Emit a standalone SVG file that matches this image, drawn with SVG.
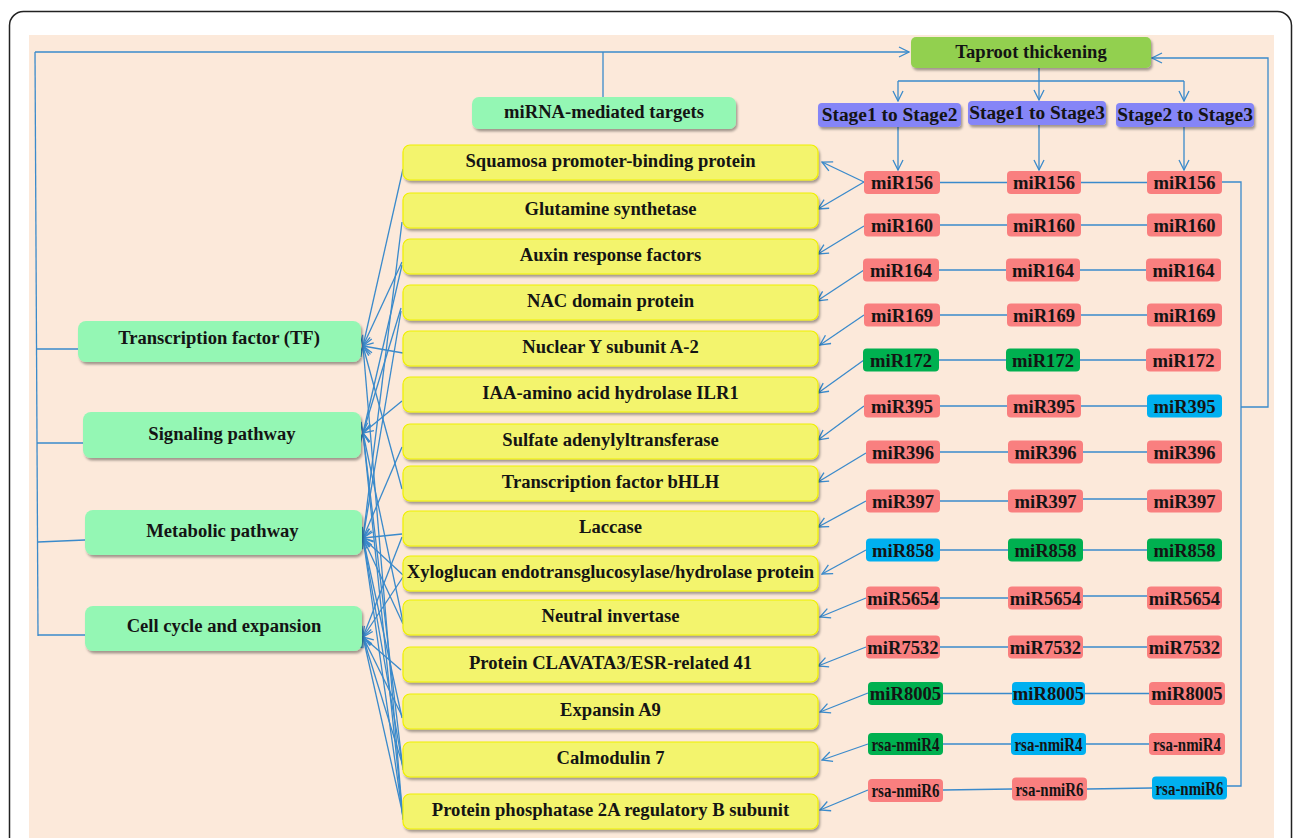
<svg xmlns="http://www.w3.org/2000/svg" width="1296" height="838" viewBox="0 0 1296 838">
<defs>
<style>
.t{font-family:"Liberation Serif","Times New Roman",serif;font-weight:bold;font-size:18.6px;text-anchor:middle;fill:#141414}
.rs{font-size:19px}
.st{font-size:19.4px}
.c{fill:none;stroke:#3a8acb;stroke-width:1.3}
.a{marker-end:url(#arr)}
.cat{fill:#94F7B4}
.tg{fill:#F3F46D;stroke:#F0F000;stroke-width:1.2}
.stg{fill:#8585F7}
.r{fill:#F97F7F}
.g{fill:#00B050}
.b{fill:#00B0F0}
</style>
<filter id="sh" x="-10%" y="-20%" width="120%" height="150%">
<feDropShadow dx="1.5" dy="2.5" stdDeviation="1.2" flood-color="#000" flood-opacity="0.35"/>
</filter>
<marker id="arr" viewBox="0 0 12 12" refX="11" refY="6" markerWidth="12" markerHeight="12" markerUnits="userSpaceOnUse" orient="auto">
<path d="M1,1 L11,6 L1,11" fill="none" stroke="#3a8acb" stroke-width="1.3"/>
</marker>
</defs>
<rect x="0" y="0" width="1296" height="838" fill="#fff"/>
<rect x="9.5" y="11.5" width="1282" height="870" rx="14" fill="#fff" stroke="#222" stroke-width="1.5"/>
<rect x="29" y="35" width="1245" height="803" fill="#FCE9DA"/>

<g id="connectors">
<path class="c a" d="M35,52 H909"/>
<path class="c" d="M603,52 V97"/>
<path class="c" d="M35,52 L38,636"/>
<path class="c" d="M36,349 H78"/>
<path class="c" d="M37,443 H83"/>
<path class="c" d="M38,542 L85,540"/>
<path class="c" d="M38,635 H85"/>
<path class="c" d="M1039,68 V81 M898,81 H1184"/>
<path class="c a" d="M898,81 V101"/>
<path class="c a" d="M1039,81 V100"/>
<path class="c a" d="M1184,81 V101"/>
<path class="c a" d="M898,127 V170"/>
<path class="c a" d="M1039,125 V170"/>
<path class="c a" d="M1184,127 V170"/>
<path class="c" d="M1222,182 H1241 V786 H1227"/>
<path class="c a" d="M1241,407 H1268 V58 H1152"/>
<path class="c" d="M940,182.5 H1007 M1081,182.5 H1147"/>
<path class="c" d="M940,225 H1007 M1081,225 H1147"/>
<path class="c" d="M939,270 H1006 M1080,270 H1146"/>
<path class="c" d="M940,315 H1007 M1081,315 H1147"/>
<path class="c" d="M939,360 H1006 M1080,360 H1146"/>
<path class="c" d="M940,406 H1007 M1081,406 H1147"/>
<path class="c" d="M940,452 H1008 M1083,452 H1147"/>
<path class="c" d="M940,501 H1008 M1083,499 H1147"/>
<path class="c" d="M940,550 H1008 M1083,550 H1147"/>
<path class="c" d="M940,598 H1008 M1083,596 H1147"/>
<path class="c" d="M940,647 H1008 M1083,647 H1147"/>
<path class="c" d="M943,693.5 H1012 M1085,693.5 H1149"/>
<path class="c" d="M943,744 H1011 M1086,744 H1149"/>
<path class="c" d="M943,790 L1012,789 M1087,789 L1152,788"/>
<path class="c a" d="M864,182 L822,162"/>
<path class="c a" d="M864,182 L818,209"/>
<path class="c a" d="M864,226 L818,254"/>
<path class="c a" d="M864,270 L817,301"/>
<path class="c a" d="M864,315 L820,345"/>
<path class="c a" d="M864,360 L818,393"/>
<path class="c a" d="M864,406 L818,440"/>
<path class="c a" d="M866,453 L818,482"/>
<path class="c a" d="M866,501 L818,527"/>
<path class="c a" d="M866,550 L822,574"/>
<path class="c a" d="M866,598 L820,617"/>
<path class="c a" d="M866,647 L818,666"/>
<path class="c a" d="M868,693 L820,712"/>
<path class="c a" d="M868,744 L822,760"/>
<path class="c a" d="M868,790 L820,810"/>
<path class="c a" d="M403,169 L363,346"/>
<path class="c a" d="M402,222 L363,538"/>
<path class="c a" d="M402,262 L363,346"/>
<path class="c a" d="M402,265 L363,433"/>
<path class="c a" d="M401,308 L363,433"/>
<path class="c a" d="M401,311 L363,538"/>
<path class="c a" d="M403,353 L363,346"/>
<path class="c a" d="M402,401 L363,433"/>
<path class="c a" d="M402,447 L363,538"/>
<path class="c a" d="M402,489 L363,346"/>
<path class="c a" d="M402,534 L363,538"/>
<path class="c a" d="M402,537 L363,637"/>
<path class="c a" d="M403,577 L363,637"/>
<path class="c a" d="M403,575 L363,538"/>
<path class="c a" d="M403,622 L363,433"/>
<path class="c a" d="M403,624 L363,538"/>
<path class="c a" d="M401,670 L363,637"/>
<path class="c a" d="M402,716 L363,637"/>
<path class="c a" d="M402,718 L363,538"/>
<path class="c a" d="M403,766 L363,637"/>
<path class="c a" d="M403,768 L363,538"/>
<path class="c a" d="M403,770 L363,433"/>
<path class="c a" d="M403,815 L363,637"/>
<path class="c a" d="M403,817 L363,538"/>
<path class="c a" d="M403,819 L363,433"/>
<path class="c a" d="M403,820 L363,346"/>
</g>

<g id="taproot"><rect x="911" y="37" width="240" height="31" rx="5" fill="#92D050" filter="url(#sh)"/><text class="t" x="1031" y="58">Taproot thickening</text></g>
<g id="stage12"><rect x="818" y="103" width="143" height="24" rx="4" class="stg" filter="url(#sh)"/><text class="t st" x="889.5" y="121">Stage1 to Stage2</text></g>
<g id="stage13"><rect x="968" y="101" width="138" height="24" rx="4" class="stg" filter="url(#sh)"/><text class="t st" x="1037" y="119">Stage1 to Stage3</text></g>
<g id="stage23"><rect x="1116" y="103" width="138" height="24" rx="4" class="stg" filter="url(#sh)"/><text class="t st" x="1185" y="121">Stage2 to Stage3</text></g>

<g id="mirna-targets"><rect x="472" y="97" width="264" height="32" rx="7" class="cat" filter="url(#sh)"/><text class="t" x="604" y="118">miRNA-mediated targets</text></g>
<g id="cat-tf"><rect x="78" y="321" width="283" height="41" rx="8" class="cat" filter="url(#sh)"/><text class="t" x="219" y="344">Transcription factor (TF)</text></g>
<g id="cat-signal"><rect x="83" y="412" width="278" height="46" rx="8" class="cat" filter="url(#sh)"/><text class="t" x="222" y="440">Signaling pathway</text></g>
<g id="cat-metab"><rect x="85" y="510" width="277" height="45" rx="8" class="cat" filter="url(#sh)"/><text class="t" x="222.5" y="537">Metabolic pathway</text></g>
<g id="cat-cell"><rect x="85" y="606" width="277" height="45" rx="8" class="cat" filter="url(#sh)"/><text class="t" x="224" y="632">Cell cycle and expansion</text></g>

<g id="t1"><rect x="403" y="145" width="415" height="35" rx="7" class="tg" filter="url(#sh)"/><text class="t" x="610.5" y="167">Squamosa promoter-binding protein</text></g>
<g id="t2"><rect x="403" y="193" width="415" height="35" rx="7" class="tg" filter="url(#sh)"/><text class="t" x="610.5" y="215">Glutamine synthetase</text></g>
<g id="t3"><rect x="403" y="239" width="415" height="35" rx="7" class="tg" filter="url(#sh)"/><text class="t" x="610.5" y="261">Auxin response factors</text></g>
<g id="t4"><rect x="403" y="285" width="415" height="35" rx="7" class="tg" filter="url(#sh)"/><text class="t" x="610.5" y="307">NAC domain protein</text></g>
<g id="t5"><rect x="403" y="331" width="415" height="35" rx="7" class="tg" filter="url(#sh)"/><text class="t" x="610.5" y="353">Nuclear Y subunit A-2</text></g>
<g id="t6"><rect x="403" y="377" width="415" height="35" rx="7" class="tg" filter="url(#sh)"/><text class="t" x="610.5" y="399">IAA-amino acid hydrolase ILR1</text></g>
<g id="t7"><rect x="403" y="424" width="415" height="35" rx="7" class="tg" filter="url(#sh)"/><text class="t" x="610.5" y="446">Sulfate adenylyltransferase</text></g>
<g id="t8"><rect x="403" y="466" width="415" height="35" rx="7" class="tg" filter="url(#sh)"/><text class="t" x="610.5" y="488">Transcription factor bHLH</text></g>
<g id="t9"><rect x="403" y="511" width="415" height="35" rx="7" class="tg" filter="url(#sh)"/><text class="t" x="610.5" y="533">Laccase</text></g>
<g id="t10"><rect x="403" y="556" width="415" height="35" rx="7" class="tg" filter="url(#sh)"/><text class="t" x="610.5" y="578">Xyloglucan endotransglucosylase/hydrolase protein</text></g>
<g id="t11"><rect x="403" y="600" width="415" height="35" rx="7" class="tg" filter="url(#sh)"/><text class="t" x="610.5" y="622">Neutral invertase</text></g>
<g id="t12"><rect x="403" y="647" width="415" height="35" rx="7" class="tg" filter="url(#sh)"/><text class="t" x="610.5" y="669">Protein CLAVATA3/ESR-related 41</text></g>
<g id="t13"><rect x="403" y="694" width="415" height="35" rx="7" class="tg" filter="url(#sh)"/><text class="t" x="610.5" y="716">Expansin A9</text></g>
<g id="t14"><rect x="403" y="742" width="415" height="35" rx="7" class="tg" filter="url(#sh)"/><text class="t" x="610.5" y="764">Calmodulin 7</text></g>
<g id="t15"><rect x="403" y="794" width="415" height="35" rx="7" class="tg" filter="url(#sh)"/><text class="t" x="610.5" y="816">Protein phosphatase 2A regulatory B subunit</text></g>

<g id="r156a"><rect x="864" y="171" width="76" height="23" rx="4" class="r"/><text class="t" x="902" y="189">miR156</text></g>
<g id="r156b"><rect x="1007" y="171" width="74" height="23" rx="4" class="r"/><text class="t" x="1044" y="189">miR156</text></g>
<g id="r156c"><rect x="1147" y="171" width="75" height="23" rx="4" class="r"/><text class="t" x="1184.5" y="189">miR156</text></g>
<g id="r160a"><rect x="864" y="213.5" width="76" height="23" rx="4" class="r"/><text class="t" x="902" y="231.5">miR160</text></g>
<g id="r160b"><rect x="1007" y="213.5" width="74" height="23" rx="4" class="r"/><text class="t" x="1044" y="231.5">miR160</text></g>
<g id="r160c"><rect x="1147" y="213.5" width="75" height="23" rx="4" class="r"/><text class="t" x="1184.5" y="231.5">miR160</text></g>
<g id="r164a"><rect x="863" y="258.5" width="76" height="23" rx="4" class="r"/><text class="t" x="901" y="276.5">miR164</text></g>
<g id="r164b"><rect x="1006" y="258.5" width="74" height="23" rx="4" class="r"/><text class="t" x="1043" y="276.5">miR164</text></g>
<g id="r164c"><rect x="1146" y="258.5" width="75" height="23" rx="4" class="r"/><text class="t" x="1183.5" y="276.5">miR164</text></g>
<g id="r169a"><rect x="864" y="303.5" width="76" height="23" rx="4" class="r"/><text class="t" x="902" y="321.5">miR169</text></g>
<g id="r169b"><rect x="1007" y="303.5" width="74" height="23" rx="4" class="r"/><text class="t" x="1044" y="321.5">miR169</text></g>
<g id="r169c"><rect x="1147" y="303.5" width="75" height="23" rx="4" class="r"/><text class="t" x="1184.5" y="321.5">miR169</text></g>
<g id="r172a"><rect x="863" y="348.5" width="76" height="23" rx="4" class="g"/><text class="t" x="901" y="366.5">miR172</text></g>
<g id="r172b"><rect x="1006" y="348.5" width="74" height="23" rx="4" class="g"/><text class="t" x="1043" y="366.5">miR172</text></g>
<g id="r172c"><rect x="1146" y="348.5" width="75" height="23" rx="4" class="r"/><text class="t" x="1183.5" y="366.5">miR172</text></g>
<g id="r395a"><rect x="864" y="394.5" width="76" height="23" rx="4" class="r"/><text class="t" x="902" y="412.5">miR395</text></g>
<g id="r395b"><rect x="1007" y="394.5" width="74" height="23" rx="4" class="r"/><text class="t" x="1044" y="412.5">miR395</text></g>
<g id="r395c"><rect x="1147" y="394.5" width="75" height="23" rx="4" class="b"/><text class="t" x="1184.5" y="412.5">miR395</text></g>
<g id="r396a"><rect x="866" y="440.5" width="74" height="23" rx="4" class="r"/><text class="t" x="903" y="458.5">miR396</text></g>
<g id="r396b"><rect x="1008" y="440.5" width="75" height="23" rx="4" class="r"/><text class="t" x="1045.5" y="458.5">miR396</text></g>
<g id="r396c"><rect x="1147" y="440.5" width="75" height="23" rx="4" class="r"/><text class="t" x="1184.5" y="458.5">miR396</text></g>
<g id="r397a"><rect x="866" y="489.5" width="74" height="23" rx="4" class="r"/><text class="t" x="903" y="507.5">miR397</text></g>
<g id="r397b"><rect x="1008" y="489.5" width="75" height="23" rx="4" class="r"/><text class="t" x="1045.5" y="507.5">miR397</text></g>
<g id="r397c"><rect x="1147" y="489.5" width="75" height="23" rx="4" class="r"/><text class="t" x="1184.5" y="507.5">miR397</text></g>
<g id="r858a"><rect x="866" y="538.5" width="74" height="23" rx="4" class="b"/><text class="t" x="903" y="556.5">miR858</text></g>
<g id="r858b"><rect x="1008" y="538.5" width="75" height="23" rx="4" class="g"/><text class="t" x="1045.5" y="556.5">miR858</text></g>
<g id="r858c"><rect x="1147" y="538.5" width="75" height="23" rx="4" class="g"/><text class="t" x="1184.5" y="556.5">miR858</text></g>
<g id="r5654a"><rect x="866" y="586.5" width="74" height="23" rx="4" class="r"/><text class="t" x="903" y="604.5">miR5654</text></g>
<g id="r5654b"><rect x="1008" y="586.5" width="75" height="23" rx="4" class="r"/><text class="t" x="1045.5" y="604.5">miR5654</text></g>
<g id="r5654c"><rect x="1147" y="586.5" width="75" height="23" rx="4" class="r"/><text class="t" x="1184.5" y="604.5">miR5654</text></g>
<g id="r7532a"><rect x="866" y="635.5" width="74" height="23" rx="4" class="r"/><text class="t" x="903" y="653.5">miR7532</text></g>
<g id="r7532b"><rect x="1008" y="635.5" width="75" height="23" rx="4" class="r"/><text class="t" x="1045.5" y="653.5">miR7532</text></g>
<g id="r7532c"><rect x="1147" y="635.5" width="75" height="23" rx="4" class="r"/><text class="t" x="1184.5" y="653.5">miR7532</text></g>
<g id="r8005a"><rect x="868" y="682" width="75" height="23" rx="4" class="g"/><text class="t" x="905.5" y="700">miR8005</text></g>
<g id="r8005b"><rect x="1012" y="682" width="73" height="23" rx="4" class="b"/><text class="t" x="1048.5" y="700">miR8005</text></g>
<g id="r8005c"><rect x="1149" y="682" width="76" height="23" rx="4" class="r"/><text class="t" x="1187" y="700">miR8005</text></g>
<g id="rn4a"><rect x="868" y="733" width="75" height="22" rx="4" class="g"/><text class="t rs" x="905.5" y="751" textLength="68" lengthAdjust="spacingAndGlyphs">rsa-nmiR4</text></g>
<g id="rn4b"><rect x="1011" y="733" width="75" height="22" rx="4" class="b"/><text class="t rs" x="1048.5" y="751" textLength="68" lengthAdjust="spacingAndGlyphs">rsa-nmiR4</text></g>
<g id="rn4c"><rect x="1149" y="733" width="76" height="22" rx="4" class="r"/><text class="t rs" x="1187" y="751" textLength="68" lengthAdjust="spacingAndGlyphs">rsa-nmiR4</text></g>
<g id="rn6a"><rect x="868" y="779" width="75" height="23" rx="4" class="r"/><text class="t rs" x="905.5" y="797" textLength="68" lengthAdjust="spacingAndGlyphs">rsa-nmiR6</text></g>
<g id="rn6b"><rect x="1012" y="777.5" width="75" height="23" rx="4" class="r"/><text class="t rs" x="1049.5" y="795.5" textLength="68" lengthAdjust="spacingAndGlyphs">rsa-nmiR6</text></g>
<g id="rn6c"><rect x="1152" y="776.5" width="75" height="23" rx="4" class="b"/><text class="t rs" x="1189.5" y="794.5" textLength="68" lengthAdjust="spacingAndGlyphs">rsa-nmiR6</text></g>
</svg>
